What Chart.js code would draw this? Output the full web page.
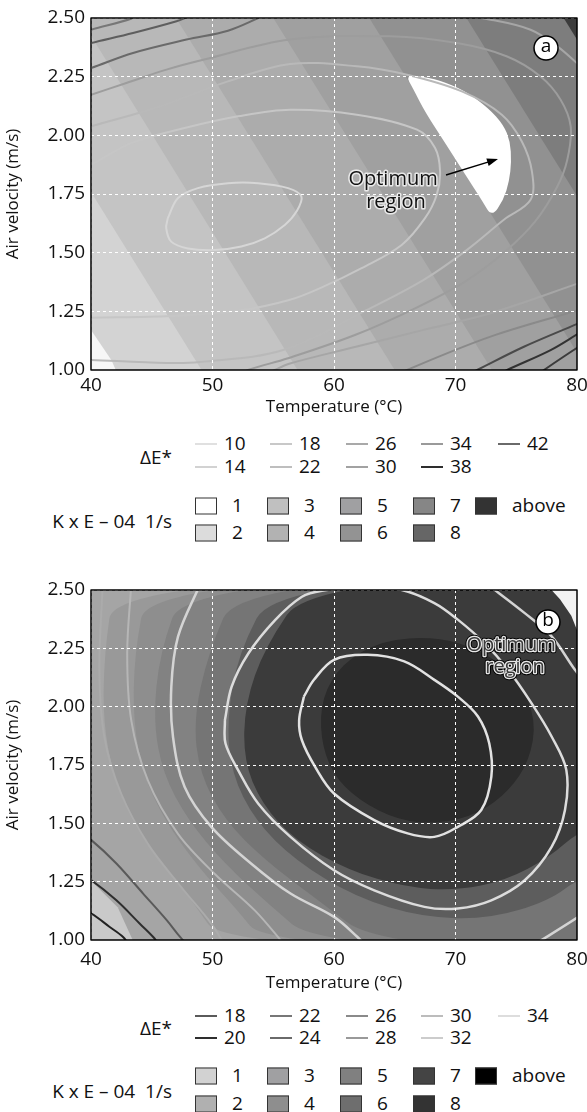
<!DOCTYPE html>
<html>
<head>
<meta charset="utf-8">
<script src="https://cdn.jsdelivr.net/npm/chart.js@4.4.0/dist/chart.umd.min.js"></script>
<style>
  body { margin: 0; background: #fff; width: 587px; height: 1112px; position: relative; overflow: hidden; font-family: "Open Sans", sans-serif; color: #111; }
  canvas { position: absolute; left: 0; }
  .lg { position: absolute; font-size: 19px; line-height: 1; white-space: nowrap; transform: translateY(-50%); }
  .lab { text-align: right; right: 415px; }
  .ln { position: absolute; width: 22px; height: 2px; transform: translateY(-50%); }
  .sw { position: absolute; width: 22px; height: 17px; border: 1px solid #333; box-sizing: border-box; transform: translateY(-50%); }
</style>
</head>
<body>
<canvas id="chartA" width="587" height="420" style="top:0px"></canvas>
<canvas id="chartB" width="587" height="424" style="top:572px"></canvas>
<div id="legendA"></div>
<div id="legendB"></div>
<script>
// axes
const tempTicks = [40, 50, 60, 70, 80];
const velocityTicks = [1.0, 1.25, 1.5, 1.75, 2.0, 2.25, 2.5];
const yMin = 1.0;
const yMax = 2.5;

// * chart a : K bands are slanted stripes, x where each boundary meets top / bottom
const bandTopA = [31.1, 39.1, 47.0, 55.0, 62.9, 70.9, 78.9];
const bandBottomA = [49.1, 57.0, 65.0, 73.0, 80.9, 88.9, 96.9];
const bandColorsA = ["#c4c4c4", "#b8b8b8", "#acacac", "#a0a0a0", "#919191", "#7d7d7d", "#3c3c3c"];
const baseColorA = "#d3d3d3";
const cornerA = [[39.5, 1.18], [40, 1.17], [41.7, 1.04], [42.2, 0.98], [39.5, 0.98]];
const optimumA = [[65.9, 2.255], [67.2, 2.25], [68.59, 2.236], [70.79, 2.19], [72.72, 2.116], [73.95, 2.045], [74.5, 1.974], [74.6, 1.888], [74.42, 1.803], [73.95, 1.725], [72.99, 1.652], [72.2, 1.72], [71.34, 1.79], [69.42, 1.945], [67.49, 2.1], [66.5, 2.2]];

// ΔE* contour lines, chart a
const ring1A = [[46.32, 1.647], [47.15, 1.732], [48.8, 1.775], [51.27, 1.796], [53.75, 1.796], [56.22, 1.775], [57.32, 1.739], [56.91, 1.675], [55.95, 1.618], [54.3, 1.561], [52.37, 1.526], [50.17, 1.511], [47.97, 1.518], [46.6, 1.547], [46.19, 1.604], [46.32, 1.647]];
const ring2A = [[39.5, 1.866], [40, 1.874], [43.3, 1.967], [47.7, 2.031], [52.1, 2.081], [56.38, 2.109], [61.88, 2.088], [66.83, 2.024], [68.32, 1.946], [68.73, 1.846], [68.45, 1.746], [67.49, 1.647], [65.57, 1.533], [62.27, 1.434], [59.13, 1.355], [56.38, 1.299], [52.1, 1.252], [46.6, 1.23], [40, 1.223], [39.5, 1.223]];
const ring3A = [[39.5, 2.03], [40, 2.038], [45.66, 2.123], [51.27, 2.23], [56.38, 2.304], [61.88, 2.294], [66.01, 2.258], [70.52, 2.187], [73.81, 2.088], [75.46, 1.974], [76.29, 1.846], [76.18, 1.725], [73.98, 1.64], [70.95, 1.512], [67.38, 1.384], [62.71, 1.256], [55.81, 1.085], [48.96, 1.034], [46.24, 1.03], [40, 1.043], [39.5, 1.044]];
const ring4A = [[39.5, 2.165], [40, 2.173], [42.91, 2.223], [46.21, 2.28], [49.24, 2.322], [56.38, 2.408], [64.63, 2.422], [70.13, 2.393], [74.25, 2.336], [77, 2.251], [78.65, 2.152], [79.48, 2.038], [79.2, 1.896], [78.38, 1.782], [76.56, 1.633], [74.09, 1.505], [70.79, 1.377], [66.67, 1.263], [61.72, 1.149], [56.22, 1.05], [52.92, 1.0], [51.8, 0.97]];
const ring5TopA = [[69.0, 2.52], [72.88, 2.493], [76.18, 2.45], [78.38, 2.379], [80.14, 2.301], [80.6, 2.28]];
const ring5LowA = [[80.6, 1.38], [80.14, 1.37], [72.88, 1.242], [67.38, 1.171], [61.88, 1.1], [56.38, 1.028], [55.12, 1.0], [54.4, 0.98]];
const grayA = [[65.0, 0.97], [66.01, 1.0], [72.88, 1.142], [80.14, 1.256], [80.6, 1.265]];
const dark1A = [[71.0, 0.98], [71.78, 1.0], [75.63, 1.099], [80.14, 1.199], [80.6, 1.21]];
const dark2A = [[73.6, 0.98], [74.25, 1.0], [77.83, 1.085], [80.14, 1.156], [80.6, 1.17]];
const dark3A = [[76.8, 0.98], [77.28, 1.0], [80.14, 1.099], [80.6, 1.11]];
const topLeft0A = [[39.5, 2.44], [40, 2.45], [43.3, 2.497], [43.6, 2.51]];
const topLeft1A = [[39.5, 2.385], [40, 2.393], [43.46, 2.436], [47.04, 2.486], [48.0, 2.505]];
const topLeft2A = [[39.5, 2.28], [40, 2.287], [43.46, 2.351], [47.86, 2.408], [51.27, 2.446], [54.0, 2.505]];

// * chart b : nested K regions, outer to inner
const baseColorB = "#a5a5a5";
const cornerB = [[39.45, 1.283], [42.2, 1.14], [43.58, 0.983], [39.45, 0.983]];
const level2B = [[41.93, 2.529], [41.1, 2.228], [40.99, 1.942], [41.79, 1.713], [43.31, 1.512], [45.79, 1.326], [48.54, 1.155], [50.74, 0.983], [90, 0.9], [90, 2.6]];
const level3B = [[44.68, 2.529], [43.58, 2.228], [43.47, 1.942], [44.27, 1.713], [46.06, 1.512], [48.82, 1.312], [51.85, 1.14], [54.33, 0.983], [90, 0.9], [90, 2.6]];
const level4B = [[47.71, 2.529], [45.65, 2.228], [45.12, 1.942], [45.92, 1.713], [47.99, 1.512], [51.02, 1.326], [54.6, 1.155], [58.46, 0.983], [90, 0.9], [90, 2.6]];
const level5B = [[52.12, 2.529], [49.64, 2.228], [48.43, 1.942], [48.95, 1.713], [51.02, 1.512], [54.33, 1.341], [58.73, 1.169], [63.42, 0.983], [90, 0.9], [90, 2.6]];
const level6B = [[55.15, 2.529], [52.12, 2.228], [51.18, 1.942], [51.57, 1.713], [53.5, 1.512], [56.8, 1.341], [61.76, 1.183], [67.27, 1.097], [72.78, 1.09], [77.74, 1.169], [80.22, 1.269], [86.56, 1.369], [90, 2.6]];
const level7B = [[57.91, 2.529], [54.33, 2.257], [52.67, 2.013], [52.56, 1.77], [54.05, 1.584], [56.8, 1.427], [61.21, 1.298], [65.89, 1.226], [70.03, 1.212], [74.16, 1.255], [77.74, 1.355], [80.22, 1.47], [86.56, 1.598], [90, 2.6]];
const level8B = [[59.01, 2.042], [60.66, 2.185], [63.97, 2.285], [68.37, 2.3], [72.23, 2.242], [75.26, 2.114], [76.64, 1.942], [76.09, 1.77], [74.43, 1.641], [71.95, 1.541], [68.65, 1.498], [65.34, 1.512], [62.04, 1.598], [59.83, 1.713], [58.87, 1.87]];
const levelColorsB = ["#999999", "#8e8e8e", "#828282", "#757575", "#5d5d5d", "#3b3b3b", "#2b2b2b"];
const optimumB = [[77.4, 2.529], [80.22, 2.529], [80.22, 2.3], [79.53, 2.39], [78.6, 2.46]];

// ΔE* contour lines, chart b
const ringAB = [[57.52, 2.043], [58.35, 2.115], [60.0, 2.201], [62.76, 2.222], [65.78, 2.194], [68.26, 2.115], [70.19, 2.043], [71.85, 1.958], [72.78, 1.842], [72.95, 1.7], [72.12, 1.557], [70.19, 1.485], [68.26, 1.442], [66.06, 1.457], [63.31, 1.514], [60.0, 1.628], [58.46, 1.741], [57.36, 1.856], [57.13, 1.942], [57.52, 2.043]];
const ringBB = [[51.02, 1.942], [51.57, 2.085], [52.95, 2.228], [55.15, 2.371], [57.36, 2.471], [59.01, 2.497], [62.31, 2.511], [65.51, 2.501], [68.26, 2.444], [70.19, 2.373], [72.4, 2.272], [74.33, 2.158], [76.25, 2.015], [77.91, 1.872], [79.12, 1.729], [79.01, 1.557], [77.91, 1.399], [75.7, 1.256], [72.95, 1.17], [70.19, 1.135], [67.44, 1.142], [63.31, 1.213], [60.0, 1.299], [56.42, 1.442], [53.77, 1.584], [52.12, 1.727], [51.07, 1.842], [51.02, 1.942]];
const ringCB = [[48.95, 2.521], [47.16, 2.3], [46.61, 2.085], [46.75, 1.87], [47.71, 1.656], [49.92, 1.484], [53.22, 1.326], [56.42, 1.199], [60.0, 1.099], [61.93, 1.013], [62.59, 0.976]];
const ringCTopB = [[72.51, 2.529], [75.7, 2.401], [77.91, 2.301], [79.83, 2.158], [80.77, 2.099]];
const ringCLowB = [[76.36, 0.976], [80.11, 1.099], [80.77, 1.126]];
const ringDB = [[43.31, 2.521], [42.98, 2.228], [43.31, 1.942], [44.68, 1.684], [47.16, 1.455], [50.19, 1.283], [53.5, 1.126], [55.98, 0.976]];
const ringEB = [[40.96, 2.521], [40.69, 2.157], [41.1, 1.87], [42.48, 1.627], [44.68, 1.412], [47.44, 1.226], [49.92, 1.069], [51.02, 0.976]];
const dark1B = [[39.5, 1.44], [40.03, 1.428], [42.09, 1.328], [44.29, 1.199], [46.23, 1.085], [47.33, 1.013], [47.99, 0.976]];
const dark2B = [[39.5, 1.265], [40.03, 1.256], [42.09, 1.17], [44.02, 1.07], [45.12, 1.013], [45.65, 0.976]];
const dark3B = [[39.5, 1.12], [40.03, 1.113], [41.54, 1.056], [42.64, 1.013], [43.17, 0.976]];

// legends
const kLevels = ["1", "2", "3", "4", "5", "6", "7", "8", "above"];
const deltaLevelsA = [10, 14, 18, 22, 26, 30, 34, 38, 42];
const deltaColorsA = ["#e0e0e0", "#d2d2d2", "#c8c8c8", "#bebebe", "#a9a9a9", "#a2a2a2", "#9a9a9a", "#2e2e2e", "#6a6a6a"];
const kColorsA = ["#ffffff", "#dcdcdc", "#c0c0c0", "#b2b2b2", "#a0a0a2", "#939393", "#868686", "#666666", "#333333"];
const deltaLevelsB = [18, 20, 22, 24, 26, 28, 30, 32, 34];
const deltaColorsB = ["#5a5a5a", "#2e2e2e", "#777777", "#6a6a6a", "#8a8a8a", "#999999", "#bcbcbc", "#cccccc", "#dddddd"];
const kColorsB = ["#d2d2d2", "#b0b0b0", "#a0a0a2", "#8e8e8e", "#808080", "#6e6e6e", "#444444", "#333333", "#000000"];

Chart.defaults.font.family = '"Open Sans", sans-serif';
Chart.defaults.color = "#111";

function lineSet(points, color, width) {
  return {
    data: points.map(([x, y]) => ({ x, y })),
    showLine: true,
    borderColor: color,
    borderWidth: width,
    pointRadius: 0,
    tension: 0.35,
    fill: false,
    clip: 0,
  };
}

function tracePath(ctx, chart, points, smooth) {
  const { x, y } = chart.scales;
  const p = points.map(([vx, vy]) => [x.getPixelForValue(vx), y.getPixelForValue(vy)]);
  ctx.beginPath();
  if (!smooth) {
    p.forEach((q, i) => (i ? ctx.lineTo(q[0], q[1]) : ctx.moveTo(q[0], q[1])));
  } else {
    const n = p.length;
    const mid = (a, b) => [(a[0] + b[0]) / 2, (a[1] + b[1]) / 2];
    const m0 = mid(p[0], p[1]);
    ctx.moveTo(m0[0], m0[1]);
    for (let i = 1; i <= n; i++) {
      const c = p[i % n];
      const m = mid(c, p[(i + 1) % n]);
      ctx.quadraticCurveTo(c[0], c[1], m[0], m[1]);
    }
  }
  ctx.closePath();
}

// filled K regions under everything
function fillPlugin(base, regions) {
  return {
    id: "contourFill",
    beforeDatasetsDraw(chart) {
      const { ctx, chartArea: a } = chart;
      ctx.save();
      ctx.beginPath();
      ctx.rect(a.left, a.top, a.width, a.height);
      ctx.clip();
      ctx.fillStyle = base;
      ctx.fillRect(a.left, a.top, a.width, a.height);
      regions.forEach((r) => {
        tracePath(ctx, chart, r.points, r.smooth);
        ctx.fillStyle = r.color;
        ctx.fill();
      });
      ctx.restore();
    },
  };
}

function badge(ctx, px, py, letter) {
  ctx.beginPath();
  ctx.arc(px, py, 12, 0, Math.PI * 2);
  ctx.fillStyle = "#fff";
  ctx.fill();
  ctx.lineWidth = 1.5;
  ctx.strokeStyle = "#000";
  ctx.stroke();
  ctx.fillStyle = "#000";
  ctx.font = '19px "Open Sans"';
  ctx.textAlign = "center";
  ctx.textBaseline = "middle";
  ctx.fillText(letter, px, py - 1);
}

function annotatePlugin(draw) {
  return {
    id: "annotate",
    afterDraw(chart) {
      const { ctx, chartArea: a, scales } = chart;
      const px = (v) => scales.x.getPixelForValue(v);
      const py = (v) => scales.y.getPixelForValue(v);
      ctx.save();
      draw(ctx, px, py);
      ctx.strokeStyle = "#000";
      ctx.lineWidth = 1.5;
      ctx.strokeRect(a.left, a.top, a.width, a.height);
      ctx.restore();
    },
  };
}

const drawA = (ctx, px, py) => {
  badge(ctx, px(77.45), py(2.372), "a");
  ctx.font = '20px "Open Sans"';
  ctx.textAlign = "center";
  ctx.textBaseline = "middle";
  ctx.lineJoin = "round";
  [["Optimum", 64.86, 1.814], ["region", 65.1, 1.716]].forEach(([t, vx, vy]) => {
    ctx.strokeStyle = "rgba(255,255,255,0.75)";
    ctx.lineWidth = 3;
    ctx.strokeText(t, px(vx), py(vy));
    ctx.fillStyle = "#111";
    ctx.fillText(t, px(vx), py(vy));
  });
  // arrow
  const x1 = px(69.22), y1 = py(1.831), x2 = px(73.5), y2 = py(1.899);
  const ang = Math.atan2(y2 - y1, x2 - x1);
  ctx.strokeStyle = "#000";
  ctx.lineWidth = 1.5;
  ctx.beginPath();
  ctx.moveTo(x1, y1);
  ctx.lineTo(x2 - 8 * Math.cos(ang), y2 - 8 * Math.sin(ang));
  ctx.stroke();
  ctx.beginPath();
  ctx.moveTo(x2, y2);
  ctx.lineTo(x2 - 11 * Math.cos(ang) + 4 * Math.sin(ang), y2 - 11 * Math.sin(ang) - 4 * Math.cos(ang));
  ctx.lineTo(x2 - 11 * Math.cos(ang) - 4 * Math.sin(ang), y2 - 11 * Math.sin(ang) + 4 * Math.cos(ang));
  ctx.closePath();
  ctx.fillStyle = "#000";
  ctx.fill();
};

const drawB = (ctx, px, py) => {
  badge(ctx, px(77.61), py(2.363), "b");
  ctx.font = '20px "Open Sans"';
  ctx.textAlign = "center";
  ctx.textBaseline = "middle";
  ctx.lineJoin = "round";
  [["Optimum", 74.57, 2.262], ["region", 74.9, 2.168]].forEach(([t, vx, vy]) => {
    ctx.strokeStyle = "#000";
    ctx.lineWidth = 4.5;
    ctx.strokeText(t, px(vx), py(vy));
    ctx.strokeStyle = "#e8e8e8";
    ctx.lineWidth = 2.5;
    ctx.strokeText(t, px(vx), py(vy));
    ctx.fillStyle = "#3a3a3a";
    ctx.fillText(t, px(vx), py(vy));
  });
};

function makeChart(id, lines, fill, annotate, xHeight, tickPad) {
  const grid = { color: "#fff", lineWidth: 1, drawTicks: false, z: 1 };
  return new Chart(document.getElementById(id), {
    type: "scatter",
    data: { datasets: lines },
    options: {
      responsive: false,
      animation: false,
      events: [],
      layout: { padding: { top: 18, right: 10, left: 0, bottom: 0 } },
      plugins: { legend: { display: false }, tooltip: { enabled: false } },
      scales: {
        x: {
          type: "linear",
          min: tempTicks[0],
          max: tempTicks[tempTicks.length - 1],
          afterBuildTicks: (s) => { s.ticks = tempTicks.map((v) => ({ value: v })); },
          afterFit: (s) => { s.height = xHeight; s.paddingLeft = 0; s.paddingRight = 0; },
          grid: grid,
          border: { display: false, dash: [3, 3] },
          ticks: { padding: tickPad, font: { size: 19 }, color: "#111", maxRotation: 0 },
          title: { display: true, text: "Temperature (°C)", font: { size: 17 }, padding: { top: 0, bottom: 3 }, color: "#111" },
        },
        y: {
          type: "linear",
          min: yMin,
          max: yMax,
          afterBuildTicks: (s) => { s.ticks = velocityTicks.map((v) => ({ value: v })); },
          afterFit: (s) => { s.width = 91; s.paddingTop = 0; s.paddingBottom = 0; },
          grid: grid,
          border: { display: false, dash: [3, 3] },
          ticks: { padding: 6, font: { size: 19 }, color: "#111", callback: (v) => Number(v).toFixed(2) },
          title: { display: true, text: "Air velocity (m/s)", font: { size: 17 }, padding: { top: 3, bottom: 0 }, color: "#111" },
        },
      },
    },
    plugins: [fill, annotate],
  });
}

// ? bands chart a
const regionsA = bandTopA.map((t, i) => ({
  color: bandColorsA[i],
  points: [[t, yMax], [bandBottomA[i], yMin], [120, yMin], [120, yMax]],
  smooth: false,
}));
regionsA.push({ color: "#f7f7f7", points: cornerA, smooth: false });
regionsA.push({ color: "#ffffff", points: optimumA, smooth: true });

const linesA = [
  lineSet(ring1A, "#d6d6d6", 2),
  lineSet(ring2A, "#c6c6c6", 2),
  lineSet(ring3A, "#b9b9b9", 2),
  lineSet(ring4A, "#9d9d9d", 2),
  lineSet(ring5TopA, "#a6a6a6", 2),
  lineSet(ring5LowA, "#a6a6a6", 2),
  lineSet(grayA, "#8a8a8a", 2),
  lineSet(dark1A, "#4a4a4a", 2),
  lineSet(dark2A, "#333333", 2),
  lineSet(dark3A, "#3c3c3c", 2),
  lineSet(topLeft0A, "#777777", 2),
  lineSet(topLeft1A, "#5e5e5e", 2),
  lineSet(topLeft2A, "#6a6a6a", 2),
];

// ? bands chart b
const levelsB = [level2B, level3B, level4B, level5B, level6B, level7B, level8B];
const regionsB = [{ color: "#c9c9c9", points: cornerB, smooth: false }].concat(
  levelsB.map((pts, i) => ({ color: levelColorsB[i], points: pts, smooth: true }))
);
regionsB.push({ color: "#f2f2f2", points: optimumB, smooth: false });

const linesB = [
  lineSet(ringAB, "#e2e2e2", 2.5),
  lineSet(ringBB, "#dcdcdc", 2.5),
  lineSet(ringCB, "#d4d4d4", 2.5),
  lineSet(ringCTopB, "#d4d4d4", 2.5),
  lineSet(ringCLowB, "#d4d4d4", 2.5),
  lineSet(ringDB, "#b6b6b6", 2),
  lineSet(ringEB, "#ababab", 2),
  lineSet(dark1B, "#5a5a5a", 2),
  lineSet(dark2B, "#2e2e2e", 2),
  lineSet(dark3B, "#222222", 2),
];

const chartA = makeChart("chartA", linesA, fillPlugin(baseColorA, regionsA), annotatePlugin(drawA), 50, 4);
const chartB = makeChart("chartB", linesB, fillPlugin(baseColorB, regionsB), annotatePlugin(drawB), 56, 8);

// * legends (html)
const deltaCols = [195, 270, 346, 421, 498];
const kCols = [195, 267, 340, 413, 475];

function buildLegend(el, rowsDelta, rowsK, deltaLevels, deltaColors, kColors) {
  let html = "";
  html += `<div class="lg lab" style="top:${(rowsDelta[0] + rowsDelta[1]) / 2 + 2}px">ΔE*</div>`;
  deltaLevels.forEach((lv, i) => {
    const x = deltaCols[Math.floor(i / 2)];
    const y = rowsDelta[i % 2];
    html += `<div class="ln" style="left:${x}px;top:${y + 1}px;background:${deltaColors[i]}"></div>`;
    html += `<div class="lg" style="left:${x + 29}px;top:${y}px">${lv}</div>`;
  });
  html += `<div class="lg lab" style="top:${(rowsK[0] + rowsK[1]) / 2 + 2}px">K x E – 04&nbsp; 1/s</div>`;
  kLevels.forEach((lv, i) => {
    const x = kCols[Math.floor(i / 2)];
    const y = rowsK[i % 2];
    html += `<div class="sw" style="left:${x}px;top:${y + 1}px;background:${kColors[i]}"></div>`;
    html += `<div class="lg" style="left:${x + 37}px;top:${y}px">${lv}</div>`;
  });
  el.innerHTML = html;
}

buildLegend(document.getElementById("legendA"), [443, 466], [505, 532], deltaLevelsA, deltaColorsA, kColorsA);
buildLegend(document.getElementById("legendB"), [1015, 1037], [1075, 1103], deltaLevelsB, deltaColorsB, kColorsB);
</script>
</body>
</html>
